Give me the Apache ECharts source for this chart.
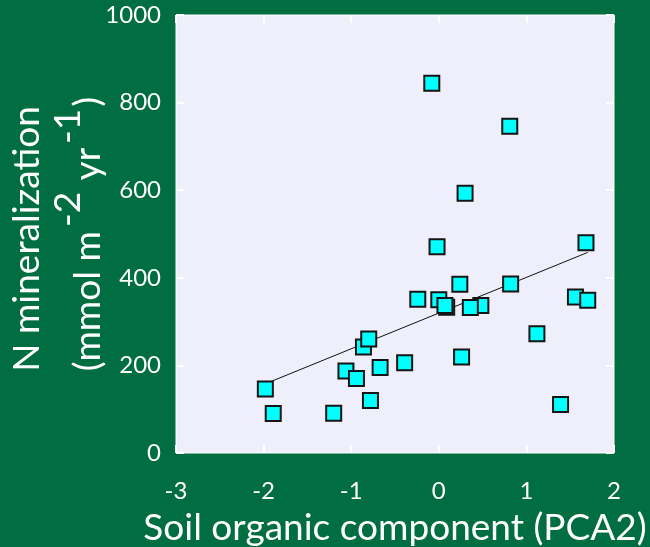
<!DOCTYPE html>
<html><head><meta charset="utf-8">
<script src="https://cdn.jsdelivr.net/npm/echarts@6/dist/echarts.min.js"></script>
<style>html,body{margin:0;padding:0;background:#006E40;}#c{width:650px;height:547px;}</style>
</head><body><div id="c"></div>
<script>
// PCA2 (soil organic component) values
var xValues = [-1.98, -1.89, -1.20, -1.06, -0.94, -0.86, -0.80, -0.78, -0.67, -0.39,
               -0.24, 0.00, 0.09, 0.07, 0.48, 0.36, 0.24, 0.82, -0.02, 1.68,
               1.56, 1.70, 1.12, 0.26, 1.39, -0.08, 0.81, 0.30];
// N mineralization (mmol m-2 yr-1)
var yValues = [146, 90, 91, 187, 170, 242, 260, 120, 195, 206,
               351, 350, 333, 337, 337, 332, 385, 386, 471, 480,
               356, 349, 272, 219, 111, 844, 746, 593];
// regression line endpoints
var fitX = [-1.98, 1.70];
var fitY = [158, 458];
var xTicks = [-3, -2, -1, 0, 1, 2];
var yTicks = [0, 200, 400, 600, 800, 1000];

var pts = xValues.map(function (x, i) { return [x, yValues[i]]; });
var fit = fitX.map(function (x, i) { return [x, fitY[i]]; });

var FONT = 'Lato';
var chart = echarts.init(document.getElementById('c'), null, {renderer: 'canvas'});
var tickStyle = {show: true, inside: true, length: 8, lineStyle: {color: '#ffffff', width: 2}};
var noLine = {show: false, onZero: false};
chart.setOption({
  backgroundColor: '#006E40',
  animation: false,
  grid: {left: 176, top: 15, width: 438, height: 438, show: true, containLabel: false,
         outerBoundsMode: 'none',
         backgroundColor: '#EFEFFB', borderColor: '#ffffff', borderWidth: 1},
  xAxis: [{
    type: 'value', min: xTicks[0], max: xTicks[xTicks.length - 1], interval: 1,
    position: 'bottom',
    axisLine: noLine, axisTick: tickStyle, splitLine: {show: false},
    axisLabel: {color: '#ffffff', fontSize: 24, fontFamily: FONT, margin: 26},
    name: 'Soil organic component (PCA2)', nameLocation: 'middle', nameGap: 57,
    nameTextStyle: {color: '#ffffff', fontSize: 37, fontFamily: FONT}
  }, {
    type: 'value', min: xTicks[0], max: xTicks[xTicks.length - 1], interval: 1,
    position: 'top',
    axisLine: noLine, axisTick: tickStyle, splitLine: {show: false},
    axisLabel: {show: false}
  }],
  yAxis: [{
    type: 'value', min: yTicks[0], max: yTicks[yTicks.length - 1], interval: 200,
    position: 'left',
    axisLine: noLine, axisTick: tickStyle, splitLine: {show: false},
    axisLabel: {color: '#ffffff', fontSize: 24, fontFamily: FONT, margin: 15,
                formatter: function (v) { return String(v); }}
  }, {
    type: 'value', min: yTicks[0], max: yTicks[yTicks.length - 1], interval: 200,
    position: 'right',
    axisLine: noLine, axisTick: tickStyle, splitLine: {show: false},
    axisLabel: {show: false}
  }],
  graphic: [{
    type: 'text', x: 27, y: 239, rotation: Math.PI / 2,
    style: {text: 'N mineralization', fill: '#ffffff', fontSize: 37, fontFamily: FONT,
            align: 'center', verticalAlign: 'middle'}
  }, {
    type: 'text', x: 86, y: 234, rotation: Math.PI / 2,
    style: {
      text: '{m|(mmol m}{s|-2}{m| yr}{s|-1}{m|)}',
      align: 'center', verticalAlign: 'middle', fill: '#ffffff',
      rich: {
        m: {fontSize: 37, fontFamily: FONT, fill: '#ffffff', lineHeight: 42, verticalAlign: 'bottom'},
        s: {fontSize: 37, fontFamily: FONT, fill: '#ffffff', lineHeight: 42, padding: [0, 2, 20, 4], verticalAlign: 'bottom'}
      }
    }
  }],
  series: [{
    type: 'line', data: fit, symbol: 'none', z: 2,
    lineStyle: {color: '#111111', width: 1}
  }, {
    type: 'scatter', data: pts, symbol: 'rect', symbolSize: 15, z: 3,
    itemStyle: {color: '#00FFFF', borderColor: '#151515', borderWidth: 2, opacity: 1}
  }]
});
</script></body></html>
